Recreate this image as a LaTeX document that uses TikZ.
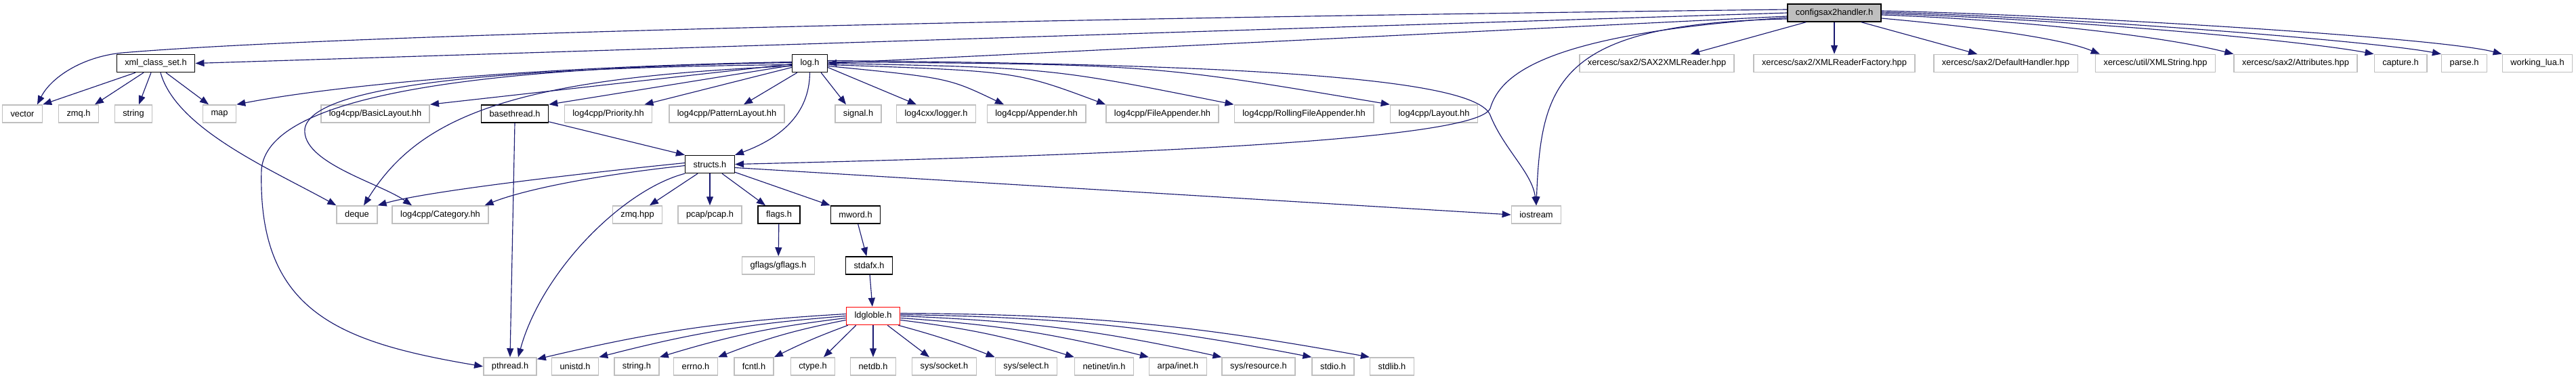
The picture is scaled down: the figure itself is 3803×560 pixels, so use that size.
\documentclass[tikz,border=0pt]{standalone}
\usepackage{fontspec}
\setmainfont{Liberation Sans}
\usepackage{xcolor}
\usepackage{tikz}
\usetikzlibrary{arrows.meta,positioning}
\definecolor{edgeblue}{HTML}{191970}
\definecolor{boxgray}{HTML}{BFBFBF}

\begin{document}
\begin{tikzpicture}[
  x=1pt,y=-1pt,
  hdr/.style={rectangle,draw=boxgray,line width=1.5pt,fill=white,minimum height=26pt,inner xsep=12pt,inner ysep=0pt,font=\fontsize{12.85}{14}\selectfont},
  doc/.style={hdr,draw=black},
  root/.style={hdr,draw=black,fill=boxgray},
  cut/.style={hdr,draw=red},
  arrow/.style={-{Triangle[length=13pt,width=10pt]},line width=1.15pt,draw=edgeblue},
]
\useasboundingbox (0,0) rectangle (3803,560);

\node[root] (cfg) at (2708,19) {configsax2handler.h};

\node[doc] (xmlset) at (230,93.5) {xml\_class\_set.h};
\node[doc] (logh) at (1195.5,93.5) {log.h};
\node[hdr] (saxrd) at (2446,93.5) {xercesc/sax2/SAX2XMLReader.hpp};
\node[hdr] (rdfac) at (2708,93.5) {xercesc/sax2/XMLReaderFactory.hpp};
\node[hdr] (dflt) at (2961,93.5) {xercesc/sax2/DefaultHandler.hpp};
\node[hdr] (xmlstr) at (3182,93.5) {xercesc/util/XMLString.hpp};
\node[hdr] (attr) at (3389,93.5) {xercesc/sax2/Attributes.hpp};
\node[hdr] (capt) at (3544,93.5) {capture.h};
\node[hdr] (parse) at (3638,93.5) {parse.h};
\node[hdr] (wlua) at (3746,93.5) {working\_lua.h};

\node[hdr] (vector) at (33,168) {vector};
\node[hdr] (zmqh) at (116,168) {zmq.h};
\node[hdr] (string) at (197,168) {string};
\node[hdr] (map) at (324,168) {map};
\node[hdr] (basic) at (554,168) {log4cpp/BasicLayout.hh};
\node[doc] (bthread) at (760,168) {basethread.h};
\node[hdr] (prio) at (898,168) {log4cpp/Priority.hh};
\node[hdr] (pattern) at (1073,168) {log4cpp/PatternLayout.hh};
\node[hdr] (signal) at (1267,168) {signal.h};
\node[hdr] (logger) at (1382,168) {log4cxx/logger.h};
\node[hdr] (append) at (1530,168) {log4cpp/Appender.hh};
\node[hdr] (fileapp) at (1716,168) {log4cpp/FileAppender.hh};
\node[hdr] (rolling) at (1925,168) {log4cpp/RollingFileAppender.hh};
\node[hdr] (layout) at (2117,168) {log4cpp/Layout.hh};

\node[doc] (structs) at (1048,242.5) {structs.h};

\node[hdr] (deque) at (527,317) {deque};
\node[hdr] (categ) at (650,317) {log4cpp/Category.hh};
\node[hdr] (zmqhpp) at (941,317) {zmq.hpp};
\node[hdr] (pcap) at (1048,317) {pcap/pcap.h};
\node[doc] (flags) at (1150,317) {flags.h};
\node[doc] (mword) at (1263,317) {mword.h};
\node[hdr] (iostream) at (2268,317) {iostream};

\node[hdr] (gflags) at (1149,392) {gflags/gflags.h};
\node[doc] (stdafx) at (1283,392) {stdafx.h};

\node[cut] (ldg) at (1289,466.5) {ldgloble.h};

\node[hdr] (pthread) at (753,541) {pthread.h};
\node[hdr] (unistd) at (849,541) {unistd.h};
\node[hdr] (stringh) at (940,541) {string.h};
\node[hdr] (errno) at (1027,541) {errno.h};
\node[hdr] (fcntl) at (1113,541) {fcntl.h};
\node[hdr] (ctype) at (1200,541) {ctype.h};
\node[hdr] (netdb) at (1289,541) {netdb.h};
\node[hdr] (socket) at (1394,541) {sys/socket.h};
\node[hdr] (select) at (1515,541) {sys/select.h};
\node[hdr] (netin) at (1630,541) {netinet/in.h};
\node[hdr] (inet) at (1739,541) {arpa/inet.h};
\node[hdr] (resource) at (1858,541) {sys/resource.h};
\node[hdr] (stdio) at (1968,541) {stdio.h};
\node[hdr] (stdlib) at (2055,541) {stdlib.h};

\draw[arrow] ([yshift=5pt]cfg.west) .. controls (1300,30) and (450,55) .. (180,78) .. controls (120,84) and (75,115) .. ([xshift=22pt]vector.north);
\draw[arrow] (cfg.west) -- (xmlset.east);
\draw[arrow] ([yshift=-5pt]cfg.west) -- (logh.east);
\draw[arrow] ([yshift=-7pt]cfg.west) .. controls (2280,50) and (2215,110) .. (2200,160) .. controls (2180,210) and (1600,230) .. (structs.east);
\draw[arrow] ([yshift=-9pt]cfg.west) .. controls (2300,35) and (2275,120) .. (iostream.north);
\draw[arrow] ([xshift=28pt]cfg.south west) -- ([xshift=50pt]saxrd.north);
\draw[arrow] (cfg) -- (rdfac);
\draw[arrow] ([xshift=-30pt]cfg.south east) -- ([xshift=-42pt]dflt.north);
\draw[arrow] ([yshift=-8pt]cfg.east) .. controls (2900,38) and (3040,55) .. ([xshift=7pt]xmlstr.north west);
\draw[arrow] ([yshift=-3pt]cfg.east) .. controls (3000,30) and (3200,55) .. (attr.north west);
\draw[arrow] ([yshift=-1pt]cfg.east) .. controls (3050,28) and (3400,60) .. (capt.north west);
\draw[arrow] ([yshift=1pt]cfg.east) .. controls (3050,25) and (3500,60) .. (parse.north west);
\draw[arrow] ([yshift=3pt]cfg.east) .. controls (3050,22) and (3600,55) .. (wlua.north west);

\draw[arrow] ([yshift=2pt]logh.west) .. controls (800,98) and (500,125) .. (map.north east);
\draw[arrow] ([yshift=-1pt]logh.west) -- (basic.north east);
\draw[arrow] ([yshift=-3pt]logh.west) -- (bthread.north east);
\draw[arrow] ([yshift=-6pt]logh.west) -- ([xshift=-12pt]prio.north east);
\draw[arrow] ([xshift=8pt]logh.south west) -- ([xshift=25pt]pattern.north);
\draw[arrow] ([xshift=-10pt]logh.south east) -- ([xshift=-18pt]signal.north);
\draw[arrow] ([yshift=-6pt]logh.east) -- ([xshift=-29pt]logger.north);
\draw[arrow] ([yshift=-4pt]logh.east) .. controls (1400,115) .. ([xshift=-48pt]append.north);
\draw[arrow] ([yshift=-2pt]logh.east) .. controls (1500,105) .. (fileapp.north west);
\draw[arrow] (logh.east) .. controls (1550,100) .. (rolling.north west);
\draw[arrow] ([yshift=2pt]logh.east) .. controls (1700,95) .. (layout.north west);
\draw[arrow] ([yshift=4pt]logh.east) .. controls (1900,95) and (2180,120) .. (2200,170) .. controls (2220,220) and (2262,255) .. (iostream.north);
\draw[arrow] (logh.south) .. controls (1195,170) and (1150,205) .. (structs.north east);
\draw[arrow] ([yshift=-4pt]logh.west) .. controls (760,115) and (620,170) .. ([xshift=10pt]deque.north);
\draw[arrow] ([yshift=-2pt]logh.west) .. controls (700,100) and (460,130) .. (450,190) .. controls (445,240) and (560,270) .. ([xshift=-42pt]categ.north);
\draw[arrow] ([yshift=1pt]logh.west) .. controls (650,100) and (395,150) .. (386,250) .. controls (380,460) and (500,505) .. (pthread.west);

\draw[arrow] ([xshift=-30pt]xmlset.south) -- (vector.north east);
\draw[arrow] ([xshift=-18pt]xmlset.south) -- ([xshift=24pt]zmqh.north);
\draw[arrow] ([xshift=-7pt]xmlset.south) -- ([xshift=8pt]string.north);
\draw[arrow] ([xshift=15pt]xmlset.south) -- ([xshift=-16pt]map.north);
\draw[arrow] ([xshift=7pt]xmlset.south) .. controls (260,190) and (400,250) .. (deque.north west);

\draw[arrow] (bthread.south) -- (pthread.north);
\draw[arrow] ([yshift=2pt]bthread.south east) -- (structs.north west);

\draw[arrow] ([yshift=2pt]structs.west) .. controls (800,262) and (620,285) .. (deque.north east);
\draw[arrow] ([yshift=-2pt]structs.west) .. controls (850,262) and (760,285) .. ([xshift=-6pt]categ.north east);
\draw[arrow] (structs.south west) .. controls (920,280) and (800,400) .. ([xshift=12pt]pthread.north);
\draw[arrow] ([xshift=-18pt]structs.south) -- ([xshift=18pt]zmqhpp.north);
\draw[arrow] (structs) -- (pcap);
\draw[arrow] ([xshift=18pt]structs.south) -- ([xshift=-20pt]flags.north);
\draw[arrow] ([yshift=2pt]structs.south east) -- (mword.north west);
\draw[arrow] ([yshift=-5pt]structs.east) -- (iostream.west);

\draw[arrow] (flags) -- (gflags);
\draw[arrow] (mword) -- (stdafx);
\draw[arrow] (stdafx) -- (ldg);

\draw[arrow] ([yshift=3pt]ldg.west) to[bend right=5] ([yshift=-3pt]pthread.north east);
\draw[arrow] (ldg.west) to[bend right=5] (unistd.north east);
\draw[arrow] ([yshift=-3pt]ldg.west) to[bend right=5] (stringh.north east);
\draw[arrow] ([yshift=-6pt]ldg.west) to[bend right=5] (errno.north east);
\draw[arrow] ([xshift=3pt]ldg.south west) to[bend right=3] (fcntl.north east);
\draw[arrow] ([xshift=15pt]ldg.south west) -- ([xshift=16pt]ctype.north);
\draw[arrow] (ldg) -- (netdb);
\draw[arrow] ([xshift=-19pt]ldg.south east) -- ([xshift=-22pt]socket.north);
\draw[arrow] ([xshift=-3pt]ldg.south east) to[bend left=3] (select.north west);
\draw[arrow] ([yshift=-6pt]ldg.east) to[bend left=5] (netin.north west);
\draw[arrow] ([yshift=-3pt]ldg.east) to[bend left=5] (inet.north west);
\draw[arrow] (ldg.east) to[bend left=5] (resource.north west);
\draw[arrow] ([yshift=2pt]ldg.east) to[bend left=5] (stdio.north west);
\draw[arrow] ([yshift=4pt]ldg.east) to[bend left=5] (stdlib.north west);
\end{tikzpicture}
\end{document}
